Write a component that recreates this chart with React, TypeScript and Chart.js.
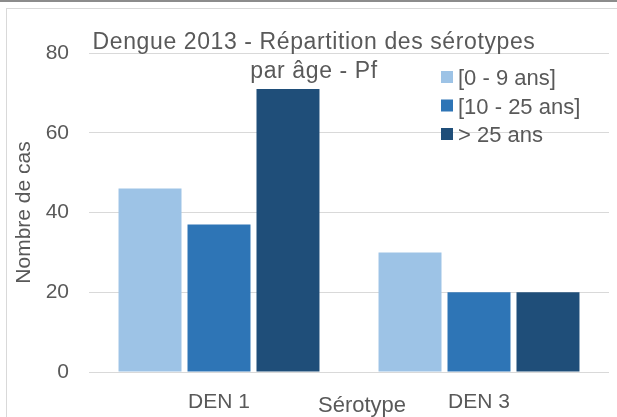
import React, { useEffect, useRef } from "react";
import { Chart, registerables } from "chart.js";

Chart.register(...registerables);

const categories = ["DEN 1", "DEN 3"];
const seriesLabels = ["[0 - 9 ans]", "[10 - 25 ans]", "> 25 ans"];
const age0to9 = [46, 30];
const age10to25 = [37, 20];
const age25plus = [71, 20];
const yTicks = [0, 20, 40, 60, 80];
const titleLines = ["Dengue 2013 - Répartition des sérotypes", "par âge - Pf"];
const yAxisTitle = "Nombre de cas";
const xAxisTitle = "Sérotype";

const seriesColors = ["#9DC3E6", "#2E75B6", "#1F4E79"];
const TEXT = "#595959";
const FAMILY = '"Liberation Sans", Arial, sans-serif';

const overlayPlugin = {
  id: "overlay",
  afterDraw(chart: any) {
    const ctx = chart.ctx as CanvasRenderingContext2D;
    ctx.save();
    ctx.fillStyle = TEXT;
    ctx.textAlign = "center";
    ctx.textBaseline = "alphabetic";
    ctx.font = `23px ${FAMILY}`;
    (ctx as any).letterSpacing = "0.6px";
    ctx.fillText(titleLines[0], 314, 49);
    ctx.fillText(titleLines[1], 314, 78);
    (ctx as any).letterSpacing = "0px";
    ctx.font = `22px ${FAMILY}`;
    ctx.fillText(xAxisTitle, 362, 412);
    ctx.textAlign = "left";
    chart.data.datasets.forEach((ds: any, i: number) => {
      const base = 85 + i * 28.5;
      ctx.fillStyle = ds.backgroundColor;
      ctx.fillRect(441, base - 14, 12, 12);
      ctx.fillStyle = TEXT;
      ctx.fillText(ds.label, 458, base);
    });
    ctx.restore();
  },
};

export default function App() {
  const ref = useRef<HTMLCanvasElement | null>(null);

  useEffect(() => {
    if (!ref.current) return;
    const values = [age0to9, age10to25, age25plus];
    const chart = new Chart(ref.current, {
      type: "bar",
      data: {
        labels: categories,
        datasets: values.map((v, i) => ({
          label: seriesLabels[i],
          data: v,
          backgroundColor: seriesColors[i],
          borderWidth: 0,
          categoryPercentage: 0.796,
          barPercentage: 0.913,
        })),
      },
      options: {
        responsive: false,
        animation: false,
        devicePixelRatio: 1,
        layout: { padding: { left: 0, right: 8, top: 53, bottom: 0 } },
        plugins: {
          legend: { display: false },
          title: { display: false },
          tooltip: { enabled: false },
        },
        scales: {
          x: {
            grid: { display: false },
            border: { display: false },
            ticks: { color: TEXT, font: { size: 21, family: FAMILY }, padding: 10 },
            afterFit(s: any) {
              s.height = 45;
            },
          },
          y: {
            min: 0,
            max: 80,
            afterBuildTicks(s: any) {
              s.ticks = yTicks.map((v) => ({ value: v }));
            },
            ticks: { color: TEXT, font: { size: 21, family: FAMILY }, padding: 20 },
            grid: { color: "#D9D9D9", lineWidth: 1, drawTicks: false },
            border: { display: false },
            title: {
              display: true,
              text: yAxisTitle,
              color: TEXT,
              font: { size: 21, family: FAMILY },
              padding: { top: 12, bottom: 0 },
            },
            afterFit(s: any) {
              s.width = 89;
            },
          },
        },
      },
      plugins: [overlayPlugin],
    });
    return () => chart.destroy();
  }, []);

  return (
    <div
      style={{
        position: "absolute",
        left: 0,
        top: 0,
        width: 617,
        height: 417,
        background: "#fff",
        overflow: "hidden",
      }}
    >
      <canvas
        ref={ref}
        width={617}
        height={417}
        style={{ position: "absolute", left: 0, top: 0, width: 617, height: 417 }}
      />
      <div style={{ position: "absolute", left: 0, top: 0, width: 617, height: 2, background: "#8C8C8C" }} />
      <div style={{ position: "absolute", left: 6, top: 8, width: 611, height: 1, background: "#D9D9D9" }} />
      <div style={{ position: "absolute", left: 6, top: 8, width: 1, height: 409, background: "#D9D9D9" }} />
    </div>
  );
}
